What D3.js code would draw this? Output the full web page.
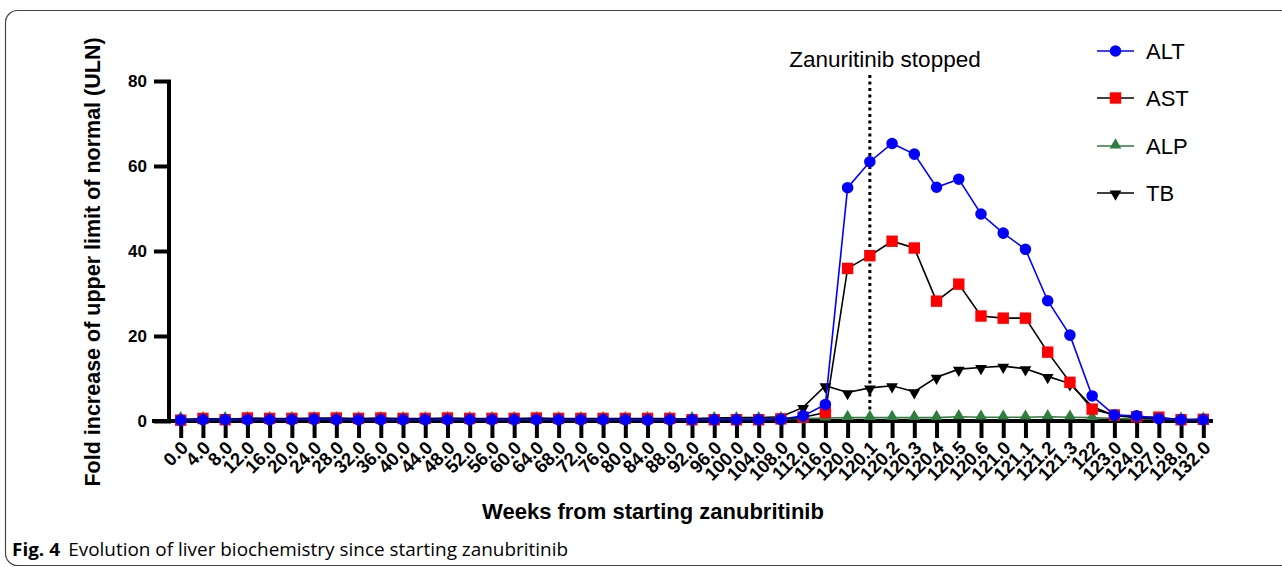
<!DOCTYPE html>
<html>
<head>
<meta charset="utf-8">
<script src="https://cdn.jsdelivr.net/npm/d3@7"></script>
<style>
  body { margin: 0; background: #fff; }
  svg { display: block; }
</style>
</head>
<body>
<svg id="chart" width="1282" height="567"></svg>
<script>
// categories on the x axis (weeks)
var WEEKS = ["0.0","4.0","8.0","12.0","16.0","20.0","24.0","28.0","32.0","36.0","40.0",
  "44.0","48.0","52.0","56.0","60.0","64.0","68.0","72.0","76.0","80.0","84.0","88.0",
  "92.0","96.0","100.0","104.0","108.0","112.0","116.0","120.0","120.1","120.2","120.3",
  "120.4","120.5","120.6","121.0","121.1","121.2","121.3","122","123.0","124.0","127.0",
  "128.0","132.0"];

var ALT = [0.2,0.3,0.3,0.3,0.3,0.3,0.4,0.3,0.3,0.3,0.3,0.3,0.3,0.3,0.3,0.3,0.3,0.3,0.3,0.3,
  0.3,0.2,0.3,0.3,0.3,0.3,0.3,0.4,1.2,3.9,54.9,61.0,65.3,62.8,55.0,56.9,48.7,44.2,40.4,28.3,
  20.2,5.9,1.4,1.2,0.55,0.3,0.3];
var AST = [0.2,0.6,0.3,0.7,0.6,0.6,0.7,0.7,0.6,0.7,0.6,0.6,0.7,0.6,0.6,0.6,0.7,0.6,0.6,0.6,
  0.6,0.6,0.6,0.3,0.3,0.3,0.3,0.5,0.9,2.0,35.9,38.9,42.3,40.7,28.2,32.2,24.7,24.2,24.2,16.2,
  9.1,2.8,1.4,1.0,0.9,0.3,0.4];
var ALP = [0.5,0.5,0.5,0.5,0.5,0.5,0.5,0.5,0.5,0.5,0.5,0.5,0.5,0.5,0.5,0.5,0.5,0.5,0.5,0.5,
  0.5,0.5,0.5,0.5,0.5,0.5,0.5,0.5,0.6,0.7,0.8,0.8,0.8,0.8,0.8,1.0,0.9,0.9,0.9,1.0,
  0.9,0.8,0.6,0.5,0.4,0.4,0.4];
var TB = [0.3,0.3,0.5,0.3,0.3,0.3,0.3,0.3,0.3,0.3,0.3,0.3,0.3,0.3,0.3,0.3,0.3,0.3,0.3,0.3,
  0.3,0.3,0.3,0.6,0.7,0.8,0.8,1.0,3.2,8.3,6.7,7.8,8.3,6.9,10.3,12.2,12.6,12.9,12.3,10.5,
  8.8,3.4,1.3,0.8,0.5,0.3,0.3];

var Y_TICKS = [0, 20, 40, 60, 80];
var STOP_WEEK = "120.1";

var SERIES = [
  {name: "ALP", values: ALP, line: "#2f7d3f", fill: "#2f7d3f", shape: "up"},
  {name: "TB",  values: TB,  line: "#000",    fill: "#000",    shape: "down"},
  {name: "AST", values: AST, line: "#000",    fill: "#ff0000", shape: "square"},
  {name: "ALT", values: ALT, line: "#0000ff", fill: "#0000ff", shape: "circle"}
];
var LEGEND_ORDER = ["ALT", "AST", "ALP", "TB"];

var svg = d3.select("#chart");
var font = "'Liberation Sans', Arial, sans-serif";

// frame round the figure
svg.append("rect")
  .attr("x", 5.5).attr("y", 10.5)
  .attr("width", 1300).attr("height", 555)
  .attr("rx", 12)
  .style("fill", "none").style("stroke", "#444").style("stroke-width", 1.2);

var X = d3.scalePoint().domain(WEEKS).range([180.7, 1203.3]);
var Y = d3.scaleLinear().domain([0, 80]).range([421, 81]);

// y axis
var yAxis = svg.append("g").attr("transform", "translate(169,0)")
  .call(d3.axisLeft(Y).tickValues(Y_TICKS).tickSize(15).tickPadding(7));
yAxis.select(".domain").attr("d", "M0," + Y(80) + "V" + Y(0))
  .style("stroke-width", 4);
yAxis.selectAll(".tick line").style("stroke-width", 4).attr("x1", 2);
yAxis.selectAll(".tick text")
  .style("font-family", font).style("font-size", "17px").style("font-weight", "bold");

// x axis
var xAxis = svg.append("g").attr("transform", "translate(0," + Y(0) + ")")
  .call(d3.axisBottom(X).tickSize(17).tickSizeOuter(0));
xAxis.select(".domain").attr("d", "M152,0H1213").style("stroke-width", 4);
xAxis.selectAll(".tick line").style("stroke-width", 4);
xAxis.selectAll(".tick text")
  .style("font-family", font).style("font-size", "18.5px").style("font-weight", "bold")
  .attr("text-anchor", "end")
  .attr("dy", 0)
  .attr("transform", "translate(8,28) rotate(-45)")
  .attr("y", 0).attr("x", 0);

// stop line
svg.append("line")
  .attr("x1", X(STOP_WEEK)).attr("x2", X(STOP_WEEK))
  .attr("y1", 75).attr("y2", Y(0))
  .style("stroke", "#000").style("stroke-width", 3)
  .style("stroke-dasharray", "3,3.5");
svg.append("text")
  .attr("x", 885).attr("y", 67)
  .attr("text-anchor", "middle")
  .style("font-family", font).style("font-size", "22.5px")
  .text("Zanuritinib stopped");

function symbolPath(shape) {
  if (shape == "circle") return d3.symbol().type(d3.symbolCircle).size(105)();
  if (shape == "square") return d3.symbol().type(d3.symbolSquare).size(130)();
  return d3.symbol().type(d3.symbolTriangle).size(60)();
}

function drawMarker(g, shape, fill, x, y) {
  var rot = shape == "down" ? 180 : 0;
  var dy = shape == "up" ? -1 : (shape == "down" ? 1 : 0);
  g.append("path")
    .attr("d", symbolPath(shape))
    .attr("transform", "translate(" + x + "," + (y + dy) + ") rotate(" + rot + ")")
    .style("fill", fill);
}

var line = d3.line()
  .x(function (d, i) { return X(WEEKS[i]); })
  .y(function (d) { return Y(d); });

for (var s = 0; s < SERIES.length; s++) {
  var ser = SERIES[s];
  var g = svg.append("g");
  g.append("path")
    .attr("d", line(ser.values))
    .style("fill", "none").style("stroke", ser.line).style("stroke-width", 1.6);
  for (var i = 0; i < ser.values.length; i++) {
    drawMarker(g, ser.shape, ser.fill, X(WEEKS[i]), Y(ser.values[i]));
  }
}

// legend
var legY = [51, 98, 146, 193];
for (var k = 0; k < LEGEND_ORDER.length; k++) {
  var ser = SERIES.filter(function (d) { return d.name == LEGEND_ORDER[k]; })[0];
  var lg = svg.append("g");
  lg.append("line")
    .attr("x1", 1097).attr("x2", 1134)
    .attr("y1", legY[k]).attr("y2", legY[k])
    .style("stroke", ser.line).style("stroke-width", 1.6);
  drawMarker(lg, ser.shape, ser.fill, 1115.5, legY[k]);
  lg.append("text")
    .attr("x", 1146).attr("y", legY[k] + 8)
    .style("font-family", font).style("font-size", "22px")
    .text(ser.name);
}

// axis titles
svg.append("text")
  .attr("transform", "translate(100,262) rotate(-90)")
  .attr("text-anchor", "middle")
  .style("font-family", font).style("font-size", "21.5px").style("font-weight", "bold")
  .text("Fold increase of upper limit of normal (ULN)");
svg.append("text")
  .attr("x", 653).attr("y", 519)
  .attr("text-anchor", "middle")
  .style("font-family", font).style("font-size", "22px").style("font-weight", "bold")
  .text("Weeks from starting zanubritinib");

// caption
var cap = svg.append("text")
  .attr("x", 12).attr("y", 556)
  .style("font-family", "'Liberation Sans Narrow', 'Open Sans', sans-serif").style("font-size", "18.5px")
  .attr("textLength", 556).attr("lengthAdjust", "spacingAndGlyphs");
cap.append("tspan").style("font-weight", "bold").text("Fig. 4");
cap.append("tspan").attr("dx", 8).text("Evolution of liver biochemistry since starting zanubritinib");
</script>
</body>
</html>
